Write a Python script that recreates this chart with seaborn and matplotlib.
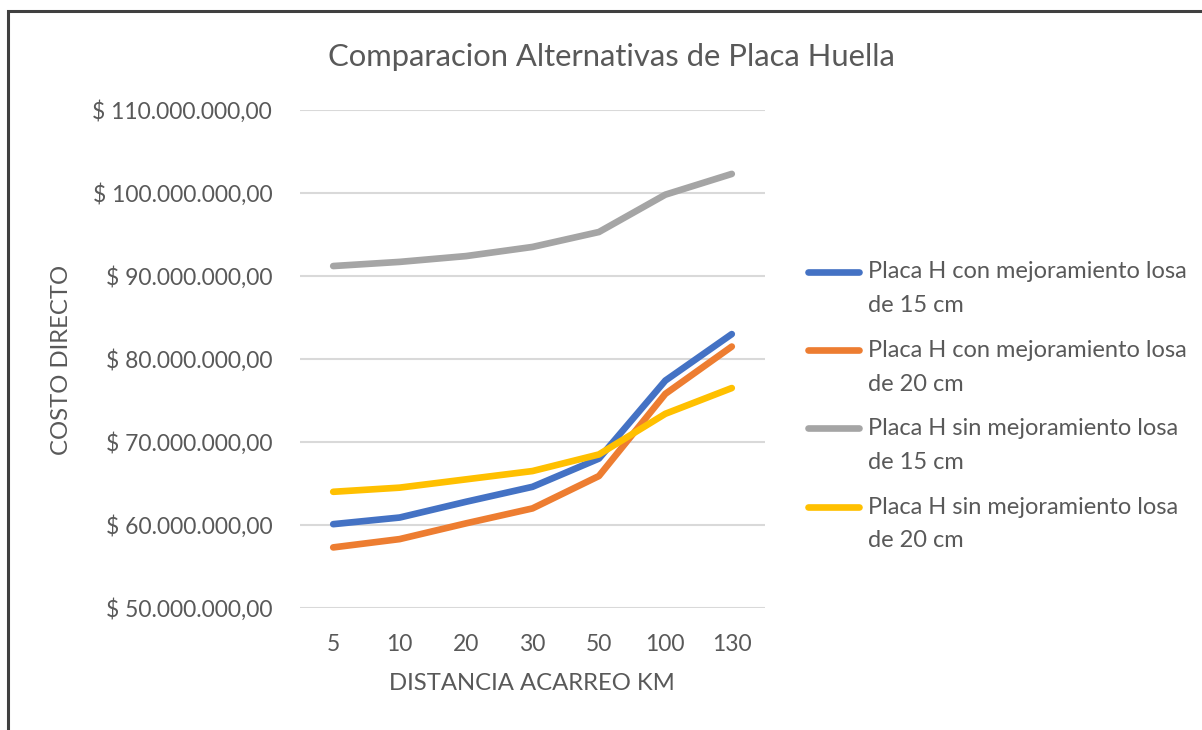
import numpy as np
import pandas as pd
import matplotlib
matplotlib.use("Agg")
import matplotlib.pyplot as plt
import matplotlib.patches as mpatches
from matplotlib.ticker import FuncFormatter, MultipleLocator
from matplotlib.legend_handler import HandlerLine2D
from matplotlib.lines import Line2D
import seaborn as sns

# ---------------- data ----------------
distancias = ["5", "10", "20", "30", "50", "100", "130"]
series_names = [
    "Placa H con mejoramiento losa\nde 15 cm",
    "Placa H con mejoramiento losa\nde 20 cm",
    "Placa H sin mejoramiento losa\nde 15 cm",
    "Placa H sin mejoramiento losa\nde 20 cm",
]
con_15 = [60.1e6, 60.9e6, 62.8e6, 64.6e6, 68.0e6, 77.4e6, 83.0e6]
con_20 = [57.3e6, 58.3e6, 60.2e6, 62.0e6, 65.9e6, 75.8e6, 81.5e6]
sin_15 = [91.2e6, 91.7e6, 92.4e6, 93.5e6, 95.3e6, 99.8e6, 102.3e6]
sin_20 = [64.0e6, 64.5e6, 65.5e6, 66.5e6, 68.5e6, 73.4e6, 76.5e6]
colors = ["#4472C4", "#ED7D31", "#A5A5A5", "#FFC000"]

rows = []
for name, vals in zip(series_names, [con_15, con_20, sin_15, sin_20]):
    for d, v in zip(distancias, vals):
        rows.append({"Distancia": d, "Costo": v, "Serie": name})
df = pd.DataFrame(rows)

# ---------------- style ----------------
sns.set_style("white")
FONT = ["Lato", "DejaVu Sans"]
plt.rcParams["font.family"] = FONT
TXT = "#595959"

W, H = 1202, 730
fig = plt.figure(figsize=(W / 100, H / 100), dpi=100)
fig.patch.set_facecolor("white")

ax = fig.add_axes([300 / W, 1 - 608 / H, 465 / W, 498 / H])
sns.lineplot(data=df, x="Distancia", y="Costo", hue="Serie", palette=colors,
             sort=False, linewidth=4.8, ax=ax, legend=False,
             solid_capstyle="round")

ax.set_xlim(-0.5, len(distancias) - 0.5)
ax.set_ylim(50e6, 110e6)
ax.yaxis.set_major_locator(MultipleLocator(10e6))


def fmt(v, pos):
    s = f"{v:,.2f}".replace(",", "X").replace(".", ",").replace("X", ".")
    return "$ " + s


ax.yaxis.set_major_formatter(FuncFormatter(fmt))
ax.set_xticks(range(len(distancias)))
ax.set_xticklabels(distancias)
ax.grid(axis="y", color="#D9D9D9", linewidth=1.5)
ax.grid(axis="x", visible=False)
ax.set_axisbelow(True)
for sp in ax.spines.values():
    sp.set_visible(False)
ax.tick_params(axis="both", length=0, colors=TXT, labelsize=16.5)
ax.tick_params(axis="y", pad=20)
ax.tick_params(axis="x", pad=19)
ax.set_xlabel("")
ax.set_ylabel("")

fig.text(62 / W, 1 - 360 / H, "COSTO DIRECTO", rotation=90, ha="center",
         va="center", color=TXT, fontsize=17.2)
fig.text(532 / W, 1 - 683 / H, "DISTANCIA ACARREO KM", ha="center",
         va="center", color=TXT, fontsize=17.2)
fig.text(611 / W, 1 - 57 / H, "Comparacion Alternativas de Placa Huella",
         ha="center", va="center", color=TXT, fontsize=22.3)

# legend: handle aligned with first text line
HANDLE_SHIFT = 12.5  # points


class FirstLineHandler(HandlerLine2D):
    def create_artists(self, legend, orig_handle, xdescent, ydescent, width,
                       height, fontsize, trans):
        arts = super().create_artists(legend, orig_handle, xdescent, ydescent,
                                      width, height, fontsize, trans)
        for a in arts:
            a.set_ydata(np.asarray(a.get_ydata()) + HANDLE_SHIFT)
        return arts


handles = [Line2D([0], [0], color=c, lw=4.8, solid_capstyle="round")
           for c in colors]
leg = fig.legend(handles, series_names, loc="upper left",
                 bbox_to_anchor=(808 / W, 1 - 261.5 / H), frameon=False,
                 fontsize=17.0, handlelength=2.16, handletextpad=0.38,
                 labelspacing=1.0, labelcolor=TXT, borderpad=0,
                 borderaxespad=0,
                 handler_map={Line2D: FirstLineHandler()})
for t in leg.get_texts():
    t.set_linespacing(1.75)

# chart area border (partially visible, as in the screenshot)
border = mpatches.Rectangle((8 / W, -0.1), 1.2, (1 - 11 / H) + 0.1,
                            transform=fig.transFigure, fill=False,
                            edgecolor="#404040", linewidth=2.2)
fig.patches.append(border)

fig.savefig("out.png", dpi=100, facecolor="white")
